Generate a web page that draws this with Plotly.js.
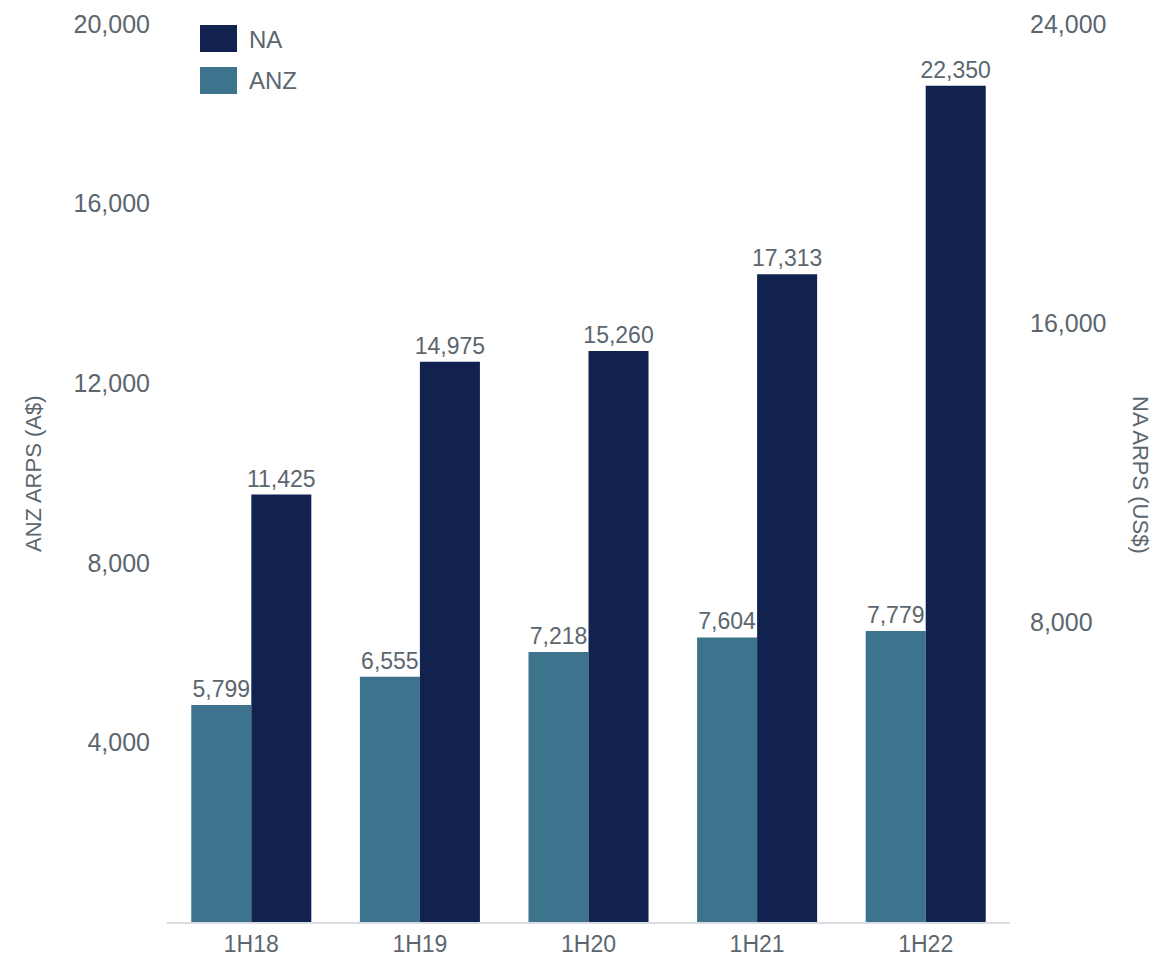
<!DOCTYPE html>
<html>
<head>
<meta charset="utf-8">
<script src="https://cdn.plot.ly/plotly-3.0.1.min.js"></script>
<style>html,body{margin:0;padding:0;background:#fff;}#chart{width:1158px;height:960px;}</style>
</head>
<body>
<div id="chart"></div>
<script>
const periods = ['1H18', '1H19', '1H20', '1H21', '1H22'];
const anzArps = [5799, 6555, 7218, 7604, 7779];
const naArps = [11425, 14975, 15260, 17313, 22350];
const leftTicks = [4000, 8000, 12000, 16000, 20000];
const rightTicks = [8000, 16000, 24000];
const seriesNames = ['ANZ', 'NA'];
const colors = {ANZ: '#3e738d', NA: '#12224f'};

const FONT = 'Liberation Sans, Arial, sans-serif';
const GREY = '#5b666e';

const traces = [
  {
    // carrier for the left (A$) axis so that it is drawn
    type: 'scatter', x: periods, y: periods.map(() => null), yaxis: 'y',
    mode: 'none', showlegend: false, hoverinfo: 'skip'
  },
  {
    type: 'bar', name: seriesNames[0], x: periods, y: anzArps, yaxis: 'y2',
    marker: {color: colors.ANZ, line: {width: 0}},
    texttemplate: '%{y:,.0f}', textposition: 'outside', cliponaxis: false, constraintext: 'none',
    textfont: {family: FONT, size: 23, color: GREY}, showlegend: false, hoverinfo: 'x+y'
  },
  {
    type: 'bar', name: seriesNames[1], x: periods, y: naArps, yaxis: 'y2',
    marker: {color: colors.NA, line: {width: 0}},
    texttemplate: '%{y:,.0f}', textposition: 'outside', cliponaxis: false, constraintext: 'none',
    textfont: {family: FONT, size: 23, color: GREY}, showlegend: false, hoverinfo: 'x+y'
  }
];

const L = 167, R = 1010, T = 24, B = 922;
const px = v => (v - L) / (R - L);
const py = v => (B - v) / (B - T);

const layout = {
  width: 1158, height: 960,
  margin: {l: L, r: 1158 - R, t: T, b: 960 - B},
  paper_bgcolor: '#ffffff', plot_bgcolor: '#ffffff',
  font: {family: FONT, color: GREY, size: 24},
  barmode: 'group', bargap: 0.288, bargroupgap: 0,
  showlegend: false,
  xaxis: {
    showgrid: false, zeroline: false, showline: true, linecolor: '#d9dde1', linewidth: 2,
    ticks: '', tickfont: {family: FONT, size: 23, color: GREY}, ticklabelstandoff: 0, fixedrange: true
  },
  yaxis: {
    range: [0, 20000], tickvals: leftTicks, tickformat: ',.0f',
    showgrid: false, zeroline: false, showline: false, ticks: '',
    tickfont: {family: FONT, size: 25, color: GREY}, ticklabelstandoff: 16
  },
  yaxis2: {
    range: [0, 24000], tickvals: rightTicks, tickformat: ',.0f',
    overlaying: 'y', side: 'right',
    showgrid: false, zeroline: false, showline: false, ticks: '',
    tickfont: {family: FONT, size: 25, color: GREY}, ticklabelstandoff: 19
  },
  shapes: [
    {type: 'rect', xref: 'paper', yref: 'paper', x0: px(200), x1: px(237), y0: py(52), y1: py(25), fillcolor: colors.NA, line: {width: 0}},
    {type: 'rect', xref: 'paper', yref: 'paper', x0: px(200), x1: px(237), y0: py(94), y1: py(67), fillcolor: colors.ANZ, line: {width: 0}}
  ],
  annotations: [
    {xref: 'paper', yref: 'paper', x: px(247), y: py(39), xanchor: 'left', yanchor: 'middle', text: 'NA', showarrow: false, font: {family: FONT, size: 24, color: GREY}},
    {xref: 'paper', yref: 'paper', x: px(247), y: py(81), xanchor: 'left', yanchor: 'middle', text: 'ANZ', showarrow: false, font: {family: FONT, size: 24, color: GREY}},
    {xref: 'paper', yref: 'paper', x: px(33), y: py(474), xanchor: 'center', yanchor: 'middle', textangle: -90, text: 'ANZ ARPS (A$)', showarrow: false, font: {family: FONT, size: 22, color: GREY}},
    {xref: 'paper', yref: 'paper', x: px(1140), y: py(475), xanchor: 'center', yanchor: 'middle', textangle: 90, text: 'NA ARPS (US$)', showarrow: false, font: {family: FONT, size: 22, color: GREY}}
  ]
};

Plotly.newPlot('chart', traces, layout, {displayModeBar: false, staticPlot: true});
</script>
</body>
</html>
